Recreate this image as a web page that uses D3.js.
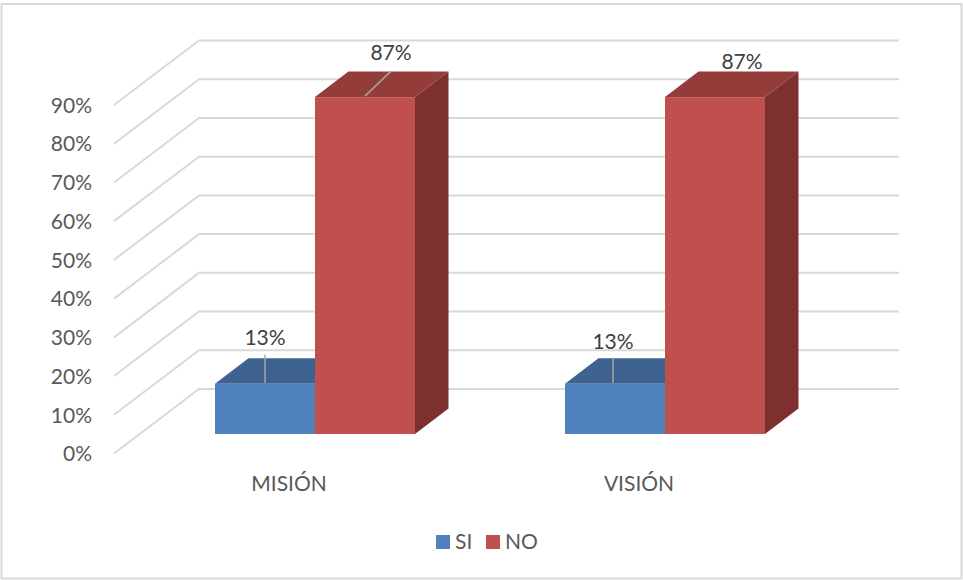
<!DOCTYPE html>
<html><head><meta charset="utf-8">
<script src="https://cdn.jsdelivr.net/npm/d3@7/dist/d3.min.js"></script>
<style>html,body{margin:0;padding:0;background:#fff}svg{display:block}text{font-family:Lato,Carlito,sans-serif;fill:#595959}</style>
</head><body><svg id="c" width="963" height="580"></svg>
<script>
const categories = ["MISIÓN", "VISIÓN"];
const seriesNames = ["SI", "NO"];
const siValues = [0.13, 0.13];
const noValues = [0.87, 0.87];
const yTicks = [0, 0.1, 0.2, 0.3, 0.4, 0.5, 0.6, 0.7, 0.8, 0.9];
const frontColors = ["#4F81BD", "#C0504D"];
const topColors = ["#3E6391", "#933C3A"];
const sideColors = ["#325074", "#7D302E"];

const svg = d3.select("#c");
const y = d3.scaleLinear().domain([0, 0.9]).range([453.5, 105]);
const x = d3.scaleBand().domain(categories).range([114, 814]);
const sx = d3.scaleBand().domain(seriesNames).range([75, 275]);
const wall = {dx: 85, dy: -64.5};
const barNear = {dx: 26, dy: -19.5};
const barFar = {dx: 59.5, dy: -45};

svg.append("rect").attr("x", 1.5).attr("y", 4).attr("width", 960).attr("height", 574.5)
  .attr("fill", "#fff").attr("stroke", "#D9D9D9").attr("stroke-width", 2);

// gridlines: floor/side wall diagonal, then along the back wall
svg.append("g").selectAll("path").data(yTicks).join("path")
  .attr("fill", "none").attr("stroke", "#D9D9D9").attr("stroke-width", 2)
  .attr("d", d => {
    const p = d3.path();
    p.moveTo(114, y(d));
    p.lineTo(114 + wall.dx, y(d) + wall.dy);
    p.lineTo(114 + wall.dx + 700, y(d) + wall.dy);
    return p.toString();
  });

// y axis
const axisG = svg.append("g").attr("transform", "translate(92,0.5)")
  .call(d3.axisLeft(y).tickValues(yTicks).tickSize(0).tickPadding(0).tickFormat(d3.format(".0%")));
axisG.select(".domain").remove();
axisG.selectAll("text").attr("font-size", 21).style("font-family", "Lato,Carlito,sans-serif").attr("fill", "#595959");

// bars
const rows = categories.flatMap((c, i) => [
  {cat: c, s: 0, name: seriesNames[0], v: siValues[i]},
  {cat: c, s: 1, name: seriesNames[1], v: noValues[i]}
]);
const depth = {dx: barFar.dx - barNear.dx, dy: barFar.dy - barNear.dy};
const bars = svg.append("g").selectAll("g").data(rows).join("g");
const poly = a => a.map(p => p.join(",")).join(" ");
const geo = d => {
  const x0 = x(d.cat) + sx(d.name) + barNear.dx, x1 = x0 + sx.bandwidth();
  return {x0, x1, yb: y(0) + barNear.dy, yt: y(d.v) + barNear.dy};
};
bars.append("polygon").attr("fill", d => sideColors[d.s]).attr("points", d => {
  const g = geo(d);
  return poly([[g.x1, g.yb], [g.x1 + depth.dx, g.yb + depth.dy], [g.x1 + depth.dx, g.yt + depth.dy], [g.x1, g.yt]]);
});
bars.append("polygon").attr("fill", d => topColors[d.s]).attr("points", d => {
  const g = geo(d);
  return poly([[g.x0, g.yt], [g.x0 + depth.dx, g.yt + depth.dy], [g.x1 + depth.dx, g.yt + depth.dy], [g.x1, g.yt]]);
});
bars.append("rect").attr("fill", d => frontColors[d.s])
  .attr("x", d => geo(d).x0).attr("y", d => geo(d).yt)
  .attr("width", sx.bandwidth()).attr("height", d => geo(d).yb - geo(d).yt);

// data labels, offset from the centre of each bar's front top edge
const labelOffsets = [[0, -46], [26, -44], [-2, -42], [27, -35]];
const leaderStarts = [0, 0, -2, 0];
const leaderEnds = [[0, -29], [26, -26], [-2, -26], null];
const labels = svg.append("g");
rows.forEach((d, i) => {
  const g = geo(d), cx = (g.x0 + g.x1) / 2;
  if (leaderEnds[i]) {
    labels.append("line").attr("x1", cx + leaderStarts[i]).attr("y1", g.yt - 1)
      .attr("x2", cx + leaderEnds[i][0]).attr("y2", g.yt + leaderEnds[i][1])
      .attr("stroke", "#A6A6A6").attr("stroke-width", 1.5);
  }
  labels.append("text").attr("x", cx + labelOffsets[i][0]).attr("y", g.yt + labelOffsets[i][1] + 7)
    .attr("text-anchor", "middle").attr("font-size", 21).attr("fill", "#404040").style("fill", "#404040")
    .text(d3.format(".0%")(d.v));
});

// category labels
svg.append("g").selectAll("text").data(categories).join("text")
  .attr("x", d => x(d) + x.bandwidth() / 2).attr("y", 491)
  .attr("text-anchor", "middle").attr("font-size", 21).text(d => d);

// legend
const legendX = [436, 486];
const lg = svg.append("g").selectAll("g").data(seriesNames).join("g")
  .attr("transform", (d, i) => `translate(${legendX[i]},535)`);
lg.append("rect").attr("width", 14).attr("height", 14).attr("fill", (d, i) => frontColors[i]);
lg.append("text").attr("x", 19).attr("y", 14).attr("font-size", 21).text(d => d);
</script></body></html>
